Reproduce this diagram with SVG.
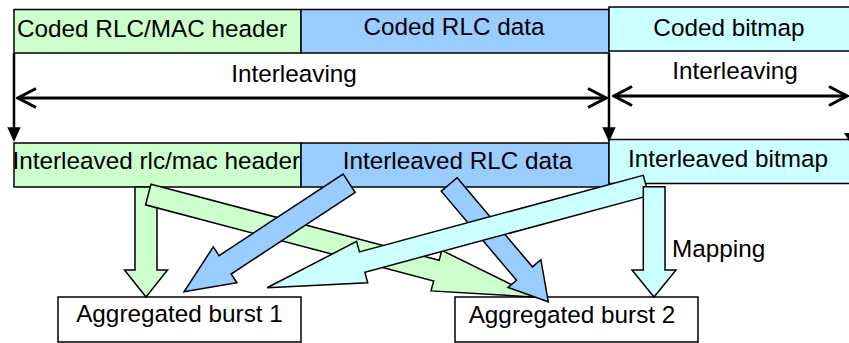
<svg xmlns="http://www.w3.org/2000/svg" width="849" height="343" viewBox="0 0 849 343">
<style>
.t{font-family:"Liberation Sans",Arial,sans-serif;font-size:24.3px;fill:#000}
.m{text-anchor:middle}
.box{stroke:#000;stroke-width:1.5}
.g{fill:#CCFFCC}
.b{fill:#99CCFF}
.c{fill:#CCFFFF}
.w{fill:#fff}
.blk{stroke:#000;stroke-width:1.5;stroke-linejoin:miter}
.ln{stroke:#000;stroke-width:3;fill:none}
.vl{stroke:#000;stroke-width:2.5;fill:none}
</style>
<defs>
<marker id="oa" markerUnits="userSpaceOnUse" viewBox="-22 -12 24 24" markerWidth="24" markerHeight="24" refX="0" refY="0" orient="auto-start-reverse">
<path d="M-18,-9.5 L0,0 L-18,9.5" fill="none" stroke="#000" stroke-width="3"/>
</marker>
</defs>
<rect width="849" height="343" fill="#fff"/>

<g id="coded-header"><rect class="box g" x="14" y="9.5" width="287" height="43.5"/><text class="t" x="17" y="37">Coded RLC/MAC header</text></g>
<g id="coded-data"><rect class="box b" x="301" y="9.5" width="308" height="43.5"/><text class="t m" x="454" y="34.5">Coded RLC data</text></g>
<g id="coded-bitmap"><rect class="box c" x="609" y="7" width="250" height="44"/><text class="t m" x="729" y="35.5">Coded bitmap</text></g>

<g id="interleaved-header"><rect class="box g" x="14" y="143" width="287" height="44"/><text class="t" x="12.5" y="169">Interleaved rlc/mac header</text></g>
<g id="interleaved-data"><rect class="box b" x="301" y="143" width="308" height="44"/><text class="t m" x="457.5" y="168.5">Interleaved RLC data</text></g>
<g id="interleaved-bitmap"><rect class="box c" x="609" y="139.5" width="250" height="44"/><text class="t m" x="728" y="167">Interleaved bitmap</text></g>

<g id="burst1"><rect class="box w" x="58" y="297" width="243" height="45"/><text class="t m" x="179.5" y="322">Aggregated burst 1</text></g>
<g id="burst2"><rect class="box w" x="455" y="297" width="243" height="45"/><text class="t m" x="572" y="323">Aggregated burst 2</text></g>

<g id="connectors">
<text class="t m" x="294" y="82">Interleaving</text>
<text class="t m" x="735" y="79">Interleaving</text>
<line class="ln" x1="18" y1="98" x2="606" y2="98" marker-start="url(#oa)" marker-end="url(#oa)"/>
<line class="ln" x1="614" y1="96" x2="847" y2="96" marker-start="url(#oa)" marker-end="url(#oa)"/>
<line class="vl" x1="14" y1="53" x2="14" y2="130"/>
<polygon points="7.3,127.3 20.7,127.3 14,142" fill="#000"/>
<line class="vl" x1="609" y1="53" x2="609" y2="130"/>
<polygon points="602.3,127.3 615.7,127.3 609,142" fill="#000"/>
<polygon points="844,133 854,133 849,141" fill="#000"/>

<path class="blk g" d="M135,187 L157,187 L157,270 L167.5,270 L146,297 L124.5,270 L135,270 Z"/>
<path class="blk g" transform="translate(148.3,194.5) rotate(14.8)" d="M0,-10.7 L298,-10.7 L298,-21 L402,0 L298,21 L298,10.7 L0,10.7 Z"/>
<path class="blk b" transform="translate(349.2,183.3) rotate(146.7)" d="M0,-11 L148.5,-11 L148.5,-21.5 L197.6,0 L148.5,21.5 L148.5,11 L0,11 Z"/>
<path class="blk b" transform="translate(449.2,184.5) rotate(49.8)" d="M0,-10.4 L116.6,-10.4 L116.6,-21.5 L153.5,0 L116.6,21.5 L116.6,10.4 L0,10.4 Z"/>
<path class="blk c" transform="translate(646,185.5) rotate(164.9)" d="M0,-10.5 L294,-10.5 L294,-21.4 L392.5,0 L294,21.4 L294,10.5 L0,10.5 Z"/>
<path class="blk c" d="M643.3,186.7 L665,186.7 L665,270 L676,270 L654,297 L632,270 L643.3,270 Z"/>
<text class="t" x="672" y="256.7">Mapping</text>
</g>
</svg>
